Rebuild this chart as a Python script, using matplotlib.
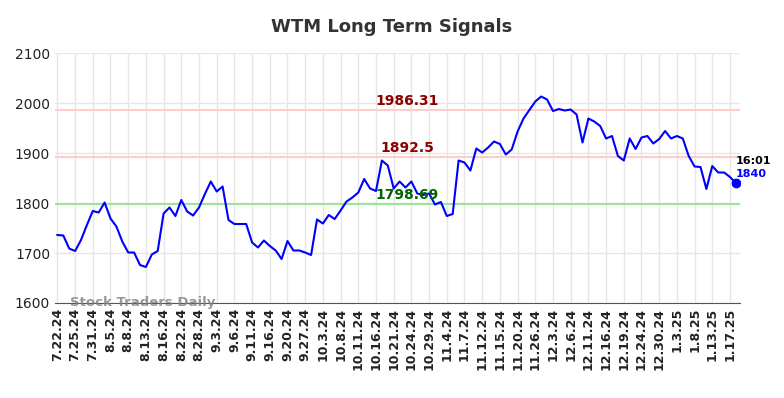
import matplotlib
matplotlib.use("Agg")
import matplotlib.pyplot as plt

# closing prices, one per trading day
prices = [1736, 1735, 1709, 1704, 1726, 1756, 1784, 1781, 1801, 1769,
          1753, 1723, 1701, 1701, 1676, 1672, 1697, 1704, 1779, 1791,
          1774, 1806, 1783, 1775, 1791, 1818, 1843, 1823, 1833, 1766,
          1758, 1758, 1758, 1721, 1711, 1725, 1714, 1705, 1688, 1724,
          1705, 1705, 1701, 1696, 1767, 1759, 1776, 1768, 1785, 1803,
          1811, 1821, 1848, 1829, 1824, 1885, 1875, 1829, 1843, 1831,
          1843, 1819, 1816, 1819, 1797, 1802, 1774, 1778, 1885, 1881,
          1865, 1909, 1901, 1911, 1923, 1918, 1897, 1907, 1943, 1969,
          1986, 2003, 2013, 2007, 1984, 1988, 1985, 1987, 1977, 1921,
          1969, 1963, 1954, 1929, 1934, 1894, 1885, 1929, 1908, 1931,
          1934, 1919, 1928, 1944, 1929, 1934, 1929, 1894, 1873, 1872,
          1828, 1874, 1861, 1861, 1852, 1840]

tick_labels = ["7.22.24", "7.25.24", "7.31.24", "8.5.24", "8.8.24", "8.13.24",
               "8.16.24", "8.22.24", "8.28.24", "9.3.24", "9.6.24", "9.11.24",
               "9.16.24", "9.20.24", "9.27.24", "10.3.24", "10.8.24", "10.11.24",
               "10.16.24", "10.21.24", "10.24.24", "10.29.24", "11.4.24", "11.7.24",
               "11.12.24", "11.15.24", "11.20.24", "11.26.24", "12.3.24", "12.6.24",
               "12.11.24", "12.16.24", "12.19.24", "12.24.24", "12.30.24", "1.3.25",
               "1.8.25", "1.13.25", "1.17.25"]

resistance_hi = 1986.31
resistance_lo = 1892.5
support = 1798.69
last_time = "16:01"

fig = plt.figure(figsize=(7.84, 3.98), dpi=100)
ax = fig.add_axes([0.0702, 0.2387, 0.8737, 0.6281])

x = list(range(len(prices)))
ax.plot(x, prices, color="blue", lw=1.5, zorder=3)
ax.plot(x[-1], prices[-1], "o", color="blue", ms=6, zorder=4)

ax.axhline(resistance_hi, color="#ffcccc", lw=1.5, zorder=2)
ax.axhline(resistance_lo, color="#ffcccc", lw=1.5, zorder=2)
ax.axhline(support, color="#99e699", lw=1.5, zorder=2)

mid = 59.3
ax.text(mid, resistance_hi + 4, f"{resistance_hi:g}", color="darkred",
        fontsize=10, fontweight="bold", ha="center", va="bottom")
ax.text(mid, resistance_lo + 4, f"{resistance_lo:g}", color="darkred",
        fontsize=10, fontweight="bold", ha="center", va="bottom")
ax.text(mid, support + 4, f"{support:g}", color="darkgreen",
        fontsize=10, fontweight="bold", ha="center", va="bottom")

ax.text(x[-1], prices[-1] + 44, last_time, color="black", fontsize=8,
        fontweight="bold", ha="left", va="center")
ax.text(x[-1], prices[-1] + 19, f"{prices[-1]:g}", color="blue", fontsize=8,
        fontweight="bold", ha="left", va="center")

ax.text(2.2, 1600, "Stock Traders Daily", color="gray", alpha=0.8,
        fontsize=9.5, fontweight="bold", ha="left", va="center")

ax.set_xlim(-0.4, 115.7)
ax.set_ylim(1600, 2100)
ax.set_yticks(range(1600, 2101, 100))
ax.set_xticks(range(0, len(prices), 3))
ax.set_xticklabels(tick_labels, rotation=90, fontsize=9, fontweight="bold")
ax.tick_params(axis="both", length=0, colors="#222222")
ax.tick_params(axis="y", labelsize=10)
ax.grid(True, color="#e6e6e6", lw=1, zorder=0)
for s in ["top", "right", "left"]:
    ax.spines[s].set_visible(False)
ax.spines["bottom"].set_color("#555555")

fig.suptitle("WTM Long Term Signals", fontsize=13, fontweight="bold",
             color="#333333", y=0.955)

fig.savefig("out.png", dpi=100)
